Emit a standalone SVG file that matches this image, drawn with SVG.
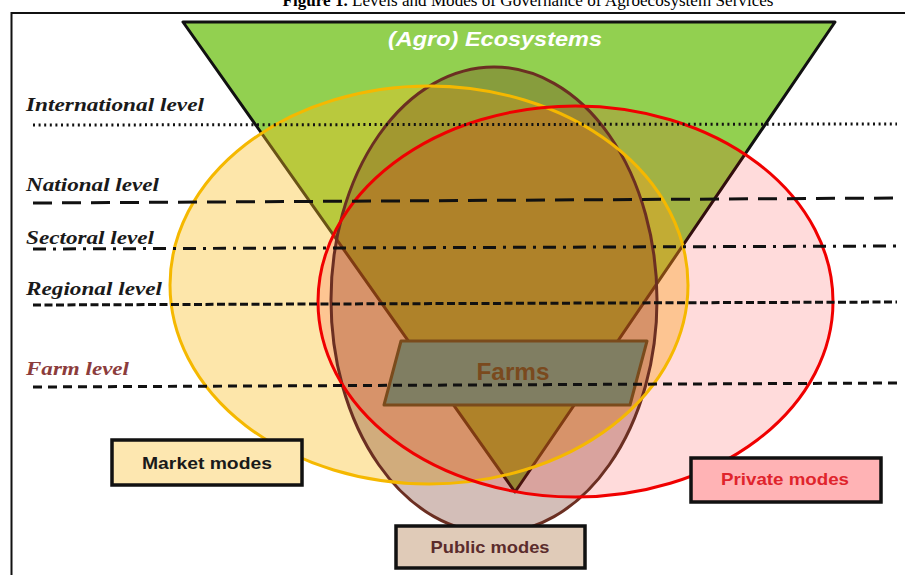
<svg xmlns="http://www.w3.org/2000/svg" width="905" height="575" viewBox="0 0 905 575">
<style>
.lvl{font-family:"Liberation Serif","Times New Roman",serif;font-weight:bold;font-style:italic;font-size:18px;fill:#1a1a1a}
.box{stroke:#111;stroke-width:3.5}
.btxt{font-family:"Liberation Sans",Arial,sans-serif;font-weight:bold;font-size:17px;text-anchor:middle}
.ln{fill:none;stroke:#111;stroke-width:3}
</style>
<rect width="905" height="575" fill="#ffffff"/>
<text x="528" y="6" text-anchor="middle" font-family="Liberation Serif,'Times New Roman',serif" font-size="16" fill="#000" textLength="491" lengthAdjust="spacingAndGlyphs"><tspan font-weight="bold">Figure 1.</tspan> Levels and Modes of Governance of Agroecosystem Services</text>
<path d="M11.5,575 V13 H905" fill="none" stroke="#111" stroke-width="2"/>

<g id="ecosystems">
<polygon points="183,22 835,22 515,492" fill="#92d050" stroke="#111" stroke-width="3" stroke-linejoin="round"/>
<text x="495" y="46" text-anchor="middle" font-family="Liberation Sans,Arial,sans-serif" font-weight="bold" font-style="italic" font-size="21" fill="#ffffff" textLength="214" lengthAdjust="spacingAndGlyphs">(Agro) Ecosystems</text>
</g>

<g id="mode-areas">
<ellipse id="market-area" cx="429" cy="285" rx="259" ry="199" fill="#fabe20" fill-opacity="0.38"/>
<ellipse id="public-area" cx="494" cy="300" rx="163" ry="233" fill="#6e2814" fill-opacity="0.3"/>
<ellipse id="private-area" cx="575.5" cy="301.5" rx="257.5" ry="195.5" fill="#ff0000" fill-opacity="0.14"/>
<ellipse cx="494" cy="300" rx="163" ry="233" fill="none" stroke="#6b2f22" stroke-width="3"/>
<ellipse cx="429" cy="285" rx="259" ry="199" fill="none" stroke="#f5b800" stroke-width="3"/>
<ellipse cx="575.5" cy="301.5" rx="257.5" ry="195.5" fill="none" stroke="#f00000" stroke-width="3"/>
</g>

<g id="farms">
<polygon points="401,341 647,341 630,405 384,405" fill="#807e62" stroke="#7a4b1c" stroke-width="3" stroke-linejoin="round"/>
<text x="513" y="380" text-anchor="middle" font-family="Liberation Sans,Arial,sans-serif" font-weight="bold" font-size="24" fill="#7a4a1e" textLength="73" lengthAdjust="spacingAndGlyphs">Farms</text>
</g>

<g id="connectors">
<line class="ln" x1="33" y1="125" x2="897" y2="124" stroke-width="2.5" stroke-dasharray="2 3.6"/>
<line class="ln" x1="33" y1="203" x2="897" y2="198" stroke-dasharray="19 10"/>
<line class="ln" x1="33" y1="249" x2="897" y2="246" stroke-dasharray="13 7 3 7"/>
<line class="ln" x1="33" y1="305" x2="897" y2="302" stroke-dasharray="8 3.5"/>
<line class="ln" x1="33" y1="387" x2="897" y2="383" stroke="#9b5d5d" stroke-width="2.5" stroke-dasharray="9 6"/>
</g>

<g id="level-international"><text class="lvl" x="26" y="111" textLength="178" lengthAdjust="spacingAndGlyphs">International level</text></g>
<g id="level-national"><text class="lvl" x="26" y="191" textLength="133" lengthAdjust="spacingAndGlyphs">National level</text></g>
<g id="level-sectoral"><text class="lvl" x="26" y="244" textLength="128" lengthAdjust="spacingAndGlyphs">Sectoral level</text></g>
<g id="level-regional"><text class="lvl" x="26" y="295" textLength="136" lengthAdjust="spacingAndGlyphs">Regional level</text></g>
<g id="level-farm"><text class="lvl" x="26" y="375" style="fill:#8c3c3c" textLength="103" lengthAdjust="spacingAndGlyphs">Farm level</text></g>

<g id="market-modes">
<rect class="box" x="112" y="440" width="190" height="45" fill="#fde7b0"/>
<text class="btxt" x="207" y="469" fill="#1a1a1a" textLength="130" lengthAdjust="spacingAndGlyphs">Market modes</text>
</g>
<g id="public-modes">
<rect class="box" x="396" y="526" width="189" height="42" fill="#e0cbb8"/>
<text class="btxt" x="490" y="553" fill="#5b2c2c" textLength="119" lengthAdjust="spacingAndGlyphs">Public modes</text>
</g>
<g id="private-modes">
<rect class="box" x="691" y="458" width="190" height="44" fill="#ffb3b5"/>
<text class="btxt" x="785" y="485" fill="#e0242c" textLength="128" lengthAdjust="spacingAndGlyphs">Private modes</text>
</g>
</svg>
